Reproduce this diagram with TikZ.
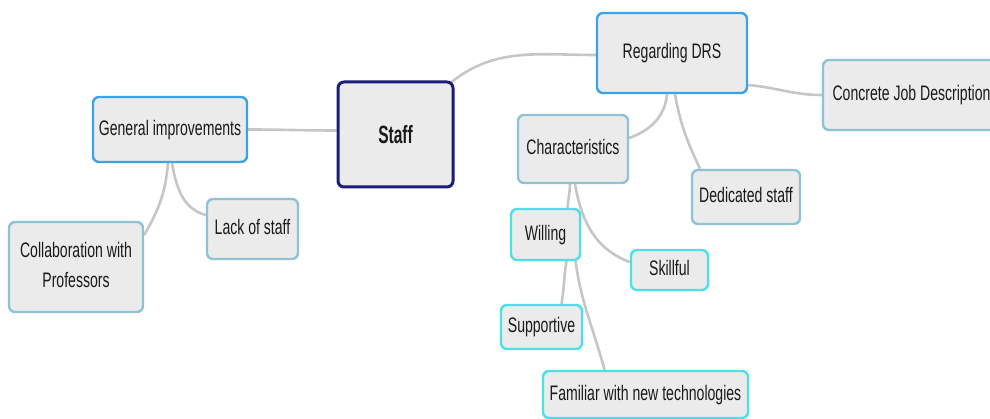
\documentclass[tikz,border=0pt]{standalone}
\usepackage{fontspec}
\setmainfont{Liberation Sans}
\usepackage{graphicx}
\usetikzlibrary{backgrounds}
\definecolor{boxfill}{HTML}{EBEBEB}
\definecolor{navyb}{HTML}{1C1C7A}
\definecolor{blueb}{HTML}{3BA3E6}
\definecolor{grayb}{HTML}{8EC3D3}
\definecolor{cyanb}{HTML}{4DE0E6}
\definecolor{linkc}{HTML}{C6C6C6}
\definecolor{txt}{HTML}{1A1A1A}
\newcommand{\nt}[1]{\scalebox{0.67}[1]{\begin{tabular}{@{}c@{}}#1\end{tabular}}}
\tikzset{
  mbox/.style={draw, fill=boxfill, rounded corners=6pt, line width=2.4pt, inner sep=0pt,
    text=txt, font=\fontsize{21}{30}\selectfont},
  navybox/.style={mbox, draw=navyb, line width=3pt},
  bluebox/.style={mbox, draw=blueb},
  graybox/.style={mbox, draw=grayb},
  cyanbox/.style={mbox, draw=cyanb},
  link/.style={draw=linkc, line width=2.6pt}
}
\begin{document}
\begin{tikzpicture}[x=1pt,y=-1pt]
\useasboundingbox (0,0) rectangle (990,419);
\node[navybox, minimum width=115pt, minimum height=105pt] (staff) at (395.5,134.5)
  {\fontsize{25}{30}\bfseries\scalebox{0.62}[1]{Staff}};
\node[bluebox, minimum width=150pt, minimum height=80pt] (drs) at (672,53) {\nt{Regarding DRS}};
\node[graybox, minimum width=177pt, minimum height=70pt] (cjd) at (911.5,95) {\nt{Concrete Job Description}};
\node[bluebox, minimum width=154pt, minimum height=65pt] (gen) at (170,129.5) {\nt{General improvements}};
\node[graybox, minimum width=110pt, minimum height=68pt] (char) at (573,149) {\nt{Characteristics}};
\node[graybox, minimum width=108pt, minimum height=54pt] (ded) at (746,197) {\nt{Dedicated staff}};
\node[graybox, minimum width=91pt, minimum height=60pt] (lack) at (252.5,229) {\nt{Lack of staff}};
\node[graybox, minimum width=134pt, minimum height=90pt] (coll) at (76,267) {\nt{Collaboration with\\Professors}};
\node[cyanbox, minimum width=69pt, minimum height=51pt] (will) at (545.5,234.5) {\nt{Willing}};
\node[cyanbox, minimum width=77pt, minimum height=40pt] (skill) at (669.5,270) {\nt{Skillful}};
\node[cyanbox, minimum width=81pt, minimum height=44pt] (supp) at (541.5,327) {\nt{Supportive}};
\node[cyanbox, minimum width=205pt, minimum height=47pt] (fam) at (645.5,394.5) {\nt{Familiar with new technologies}};
\begin{scope}[on background layer]
  \draw[link] (gen.east) to[out=0,in=180] ([yshift=4pt]staff.west);
  \draw[link] ([xshift=-6pt,yshift=-4pt]staff.north east) to[out=40,in=180] ([yshift=-2pt]drs.west);
  \draw[link] ([xshift=-5pt]drs.south) to[out=-95,in=20] ([yshift=11pt]char.east);
  \draw[link] ([xshift=3pt]drs.south) to[out=-80,in=115] ([xshift=-46pt]ded.north);
  \draw[link] ([yshift=-32pt]drs.east) to[out=-5,in=180] (cjd.west);
  \draw[link] ([xshift=-2pt]gen.south) to[out=-95,in=60] ([yshift=32pt]coll.east);
  \draw[link] ([xshift=2pt]gen.south) to[out=-80,in=165] ([yshift=14pt]lack.west);
  \draw[link] ([xshift=-3pt]char.south) to[out=-92,in=85] ([xshift=22pt]will.north);
  \draw[link] ([xshift=2pt]char.south) to[out=-80,in=160] ([yshift=8pt]skill.west);
  \draw[link] ([xshift=21pt]will.south) to[out=-100,in=80] ([xshift=20pt]supp.north);
  \draw[link] ([xshift=30pt]will.south) to[out=-82,in=105] ([xshift=-41pt]fam.north);
\end{scope}
\end{tikzpicture}
\end{document}
